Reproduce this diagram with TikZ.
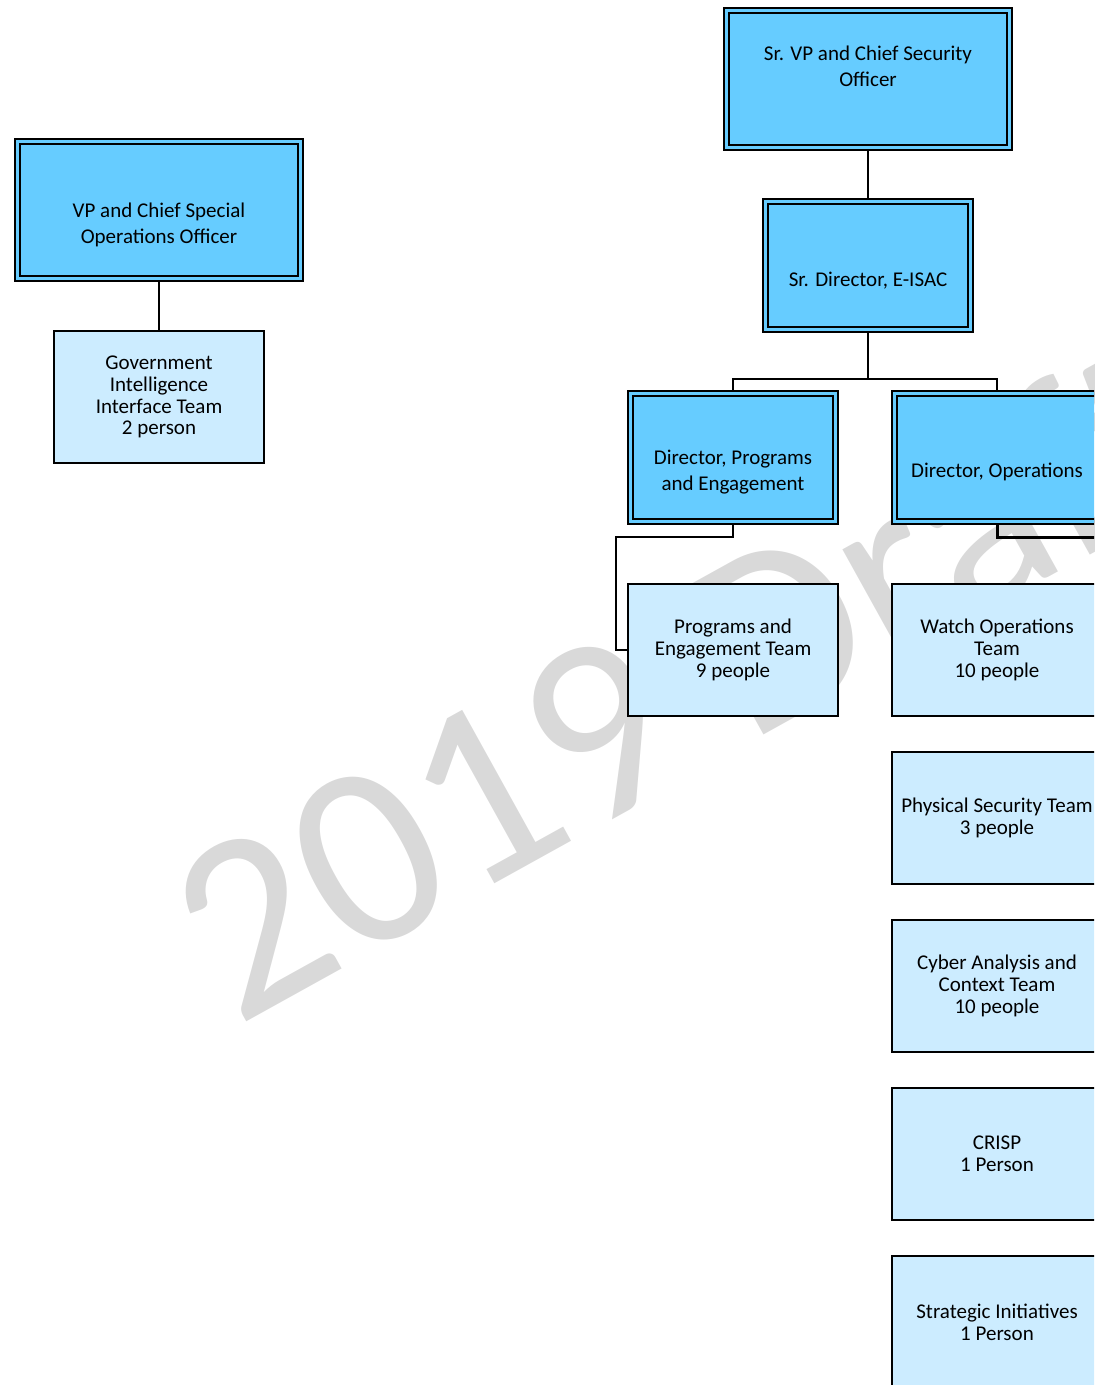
\documentclass[tikz,border=0pt]{standalone}
\usepackage{fontspec}
\setmainfont{Carlito}
\definecolor{chiefblue}{RGB}{102,204,255}
\definecolor{teamblue}{RGB}{204,236,255}
\definecolor{markgray}{RGB}{217,217,217}

\begin{document}
\begin{tikzpicture}[x=0.5pt,y=-0.5pt,
	officer/.style={draw,line width=1pt,double=chiefblue,double distance=1.5pt,fill=chiefblue,
		minimum width=141.5pt,minimum height=68.5pt,inner sep=0pt,outer sep=1.75pt,
		align=center,font=\fontsize{10.5}{13}\selectfont},
	director/.style={officer,minimum width=102.5pt,minimum height=64pt},
	team/.style={draw,line width=1pt,fill=teamblue,minimum width=105pt,minimum height=66pt,
		inner sep=0pt,align=center,font=\fontsize{10.5}{10.9}\selectfont},
	link/.style={line width=1pt}]
	\useasboundingbox (0,0) rectangle (1094,1385);
	\clip (0,0) rectangle (1094,1385);
	\node[anchor=base west,rotate=29,inner sep=0pt,text=markgray,
		font=\fontsize{130}{130}\selectfont] (mark) at (236,1028) {2019 Draft};
	
	\node[officer] (vpsoo) at (159,210) {\strut\\VP and Chief Special\\Operations Officer};
	\node[team] (govteam) at (159,397) {Government\\Intelligence\\Interface Team\\2 person};
	
	\node[officer] (svpcso) at (868,79) {Sr. VP and Chief Security\\Officer\\\mbox{}};
	\node[director] (eisac) at (868,265.5) {\strut\\Sr. Director, E-ISAC};
	\node[director] (dirprog) at (733,457.5) {\strut\\Director, Programs\\and Engagement};
	\node[director] (dirops) at (997,457.5) {\strut\\Director, Operations};
	
	\node[team] (progteam) at (733,650) {Programs and\\Engagement Team\\9 people};
	\node[team] (watchteam) at (997,650) {Watch Operations\\Team\\10 people};
	\node[team] (physteam) at (997,818) {Physical Security Team\\3 people};
	\node[team] (cyberteam) at (997,986) {Cyber Analysis and\\Context Team\\10 people};
	\node[team] (crisp) at (997,1154) {CRISP\\1 Person};
	\node[team] (stratteam) at (997,1322) {Strategic Initiatives\\1 Person};
	
	\coordinate (split) at (868,379);
	\coordinate (progbend) at (616,537);
	\coordinate (opsright) at (1110,537);
	
	\draw[link] (vpsoo) -- (govteam);
	\draw[link] (svpcso) -- (eisac);
	\draw[link] (eisac) -- (split);
	\draw[link] (dirprog.north) |- (split) -| (dirops.north);
	\draw[link] (dirprog.south) |- (progbend) |- (progteam.west);
	%\draw[link] (dirops.south) |- (watchteam.east);
	\draw[line width=1.5pt] (dirops.south) |- (opsright);
\end{tikzpicture}
\end{document}
